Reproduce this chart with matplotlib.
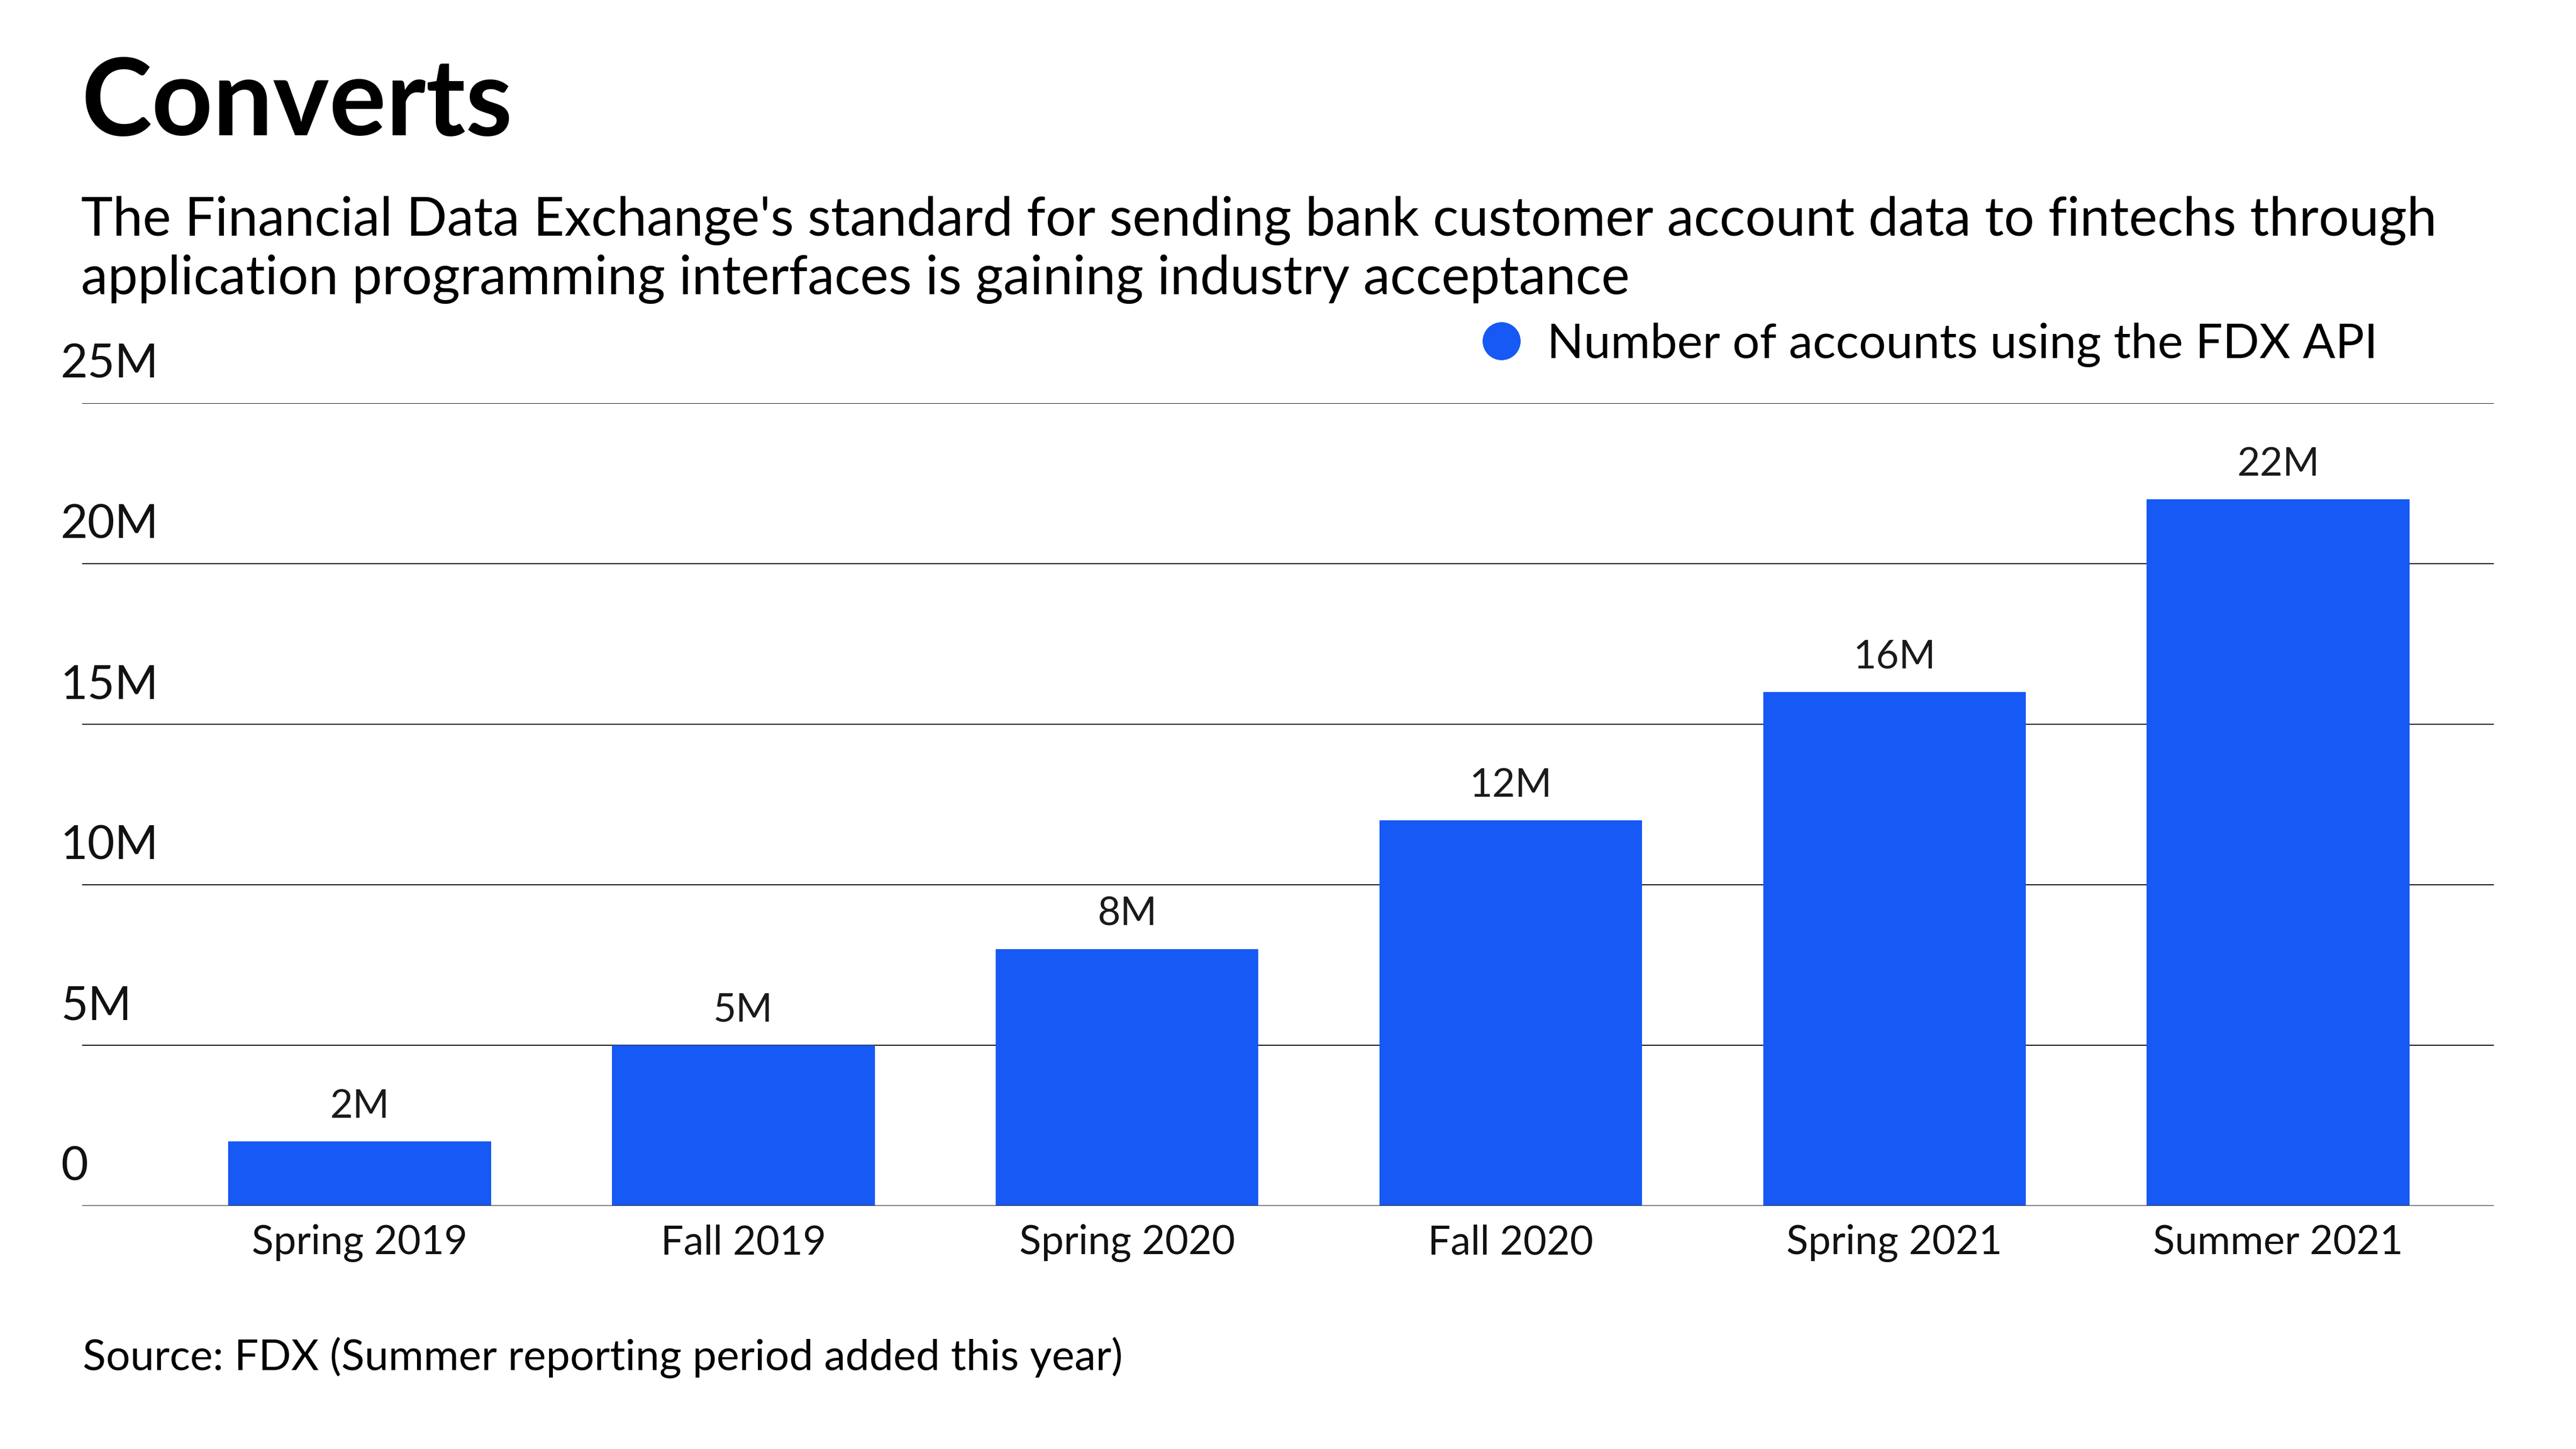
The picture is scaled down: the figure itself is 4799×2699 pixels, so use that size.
import matplotlib
matplotlib.use("Agg")
import matplotlib.pyplot as plt
from matplotlib.lines import Line2D
from matplotlib.transforms import blended_transform_factory

plt.rcParams['font.family'] = ['Lato', 'DejaVu Sans']

# data
periods = ['Spring 2019', 'Fall 2019', 'Spring 2020', 'Fall 2020', 'Spring 2021', 'Summer 2021']
accounts_m = [2, 5, 8, 12, 16, 22]
value_labels = ['2M', '5M', '8M', '12M', '16M', '22M']
y_ticks = [0, 5, 10, 15, 20, 25]
y_tick_labels = ['0', '5M', '10M', '15M', '20M', '25M']

title = 'Converts'
subtitle_1 = "The Financial Data Exchange's standard for sending bank customer account data to fintechs through"
subtitle_2 = 'application programming interfaces is gaining industry acceptance'
legend_label = 'Number of accounts using the FDX API'
source = 'Source: FDX (Summer reporting period added this year)'

BLUE = '#1659F5'
W, H = 4799, 2699
DPI = 100

def fx(x):
    return x / W

def fy(y):
    return 1 - y / H

fig = plt.figure(figsize=(W / DPI, H / DPI), dpi=DPI)
fig.patch.set_facecolor('white')

# plot area in pixel terms
ax_left, ax_right, ax_top, ax_bottom = 153, 4646, 751, 2246
ax = fig.add_axes([fx(ax_left), fy(ax_bottom), (ax_right - ax_left) / W, (ax_bottom - ax_top) / H])

x = list(range(len(periods)))
ax.bar(x, accounts_m, width=0.685, color=BLUE, zorder=3)

ax.set_ylim(0, 25)
ax.set_xlim(-0.723, 5.562)
for s in ax.spines.values():
    s.set_visible(False)
ax.set_xticks([])
ax.set_yticks([])

# gridlines
for t in y_ticks:
    if t == 0:
        ax.axhline(t, color='#111111', lw=2.0, zorder=4)
    else:
        ax.axhline(t, color='#111111', lw=1.4, zorder=2)

# y tick labels above the lines, left aligned
trans = blended_transform_factory(fig.transFigure, ax.transData)
for t, lab in zip(y_ticks, y_tick_labels):
    ax.text(fx(113), t + 0.8, lab, transform=trans, ha='left', va='baseline',
            fontsize=63, color='#111111', clip_on=False)

# category labels
for xi, lab in zip(x, periods):
    ax.text(xi, -1.51, lab, ha='center', va='baseline', fontsize=54,
            color='#111111', clip_on=False)

# value labels
for xi, v, lab in zip(x, accounts_m, value_labels):
    ax.text(xi, v + 0.74, lab, ha='center', va='baseline', fontsize=53,
            color='#1a1a1a', clip_on=False)

# title and subtitle
fig.text(fx(151), fy(252), title, fontsize=143, fontweight='bold', ha='left', va='baseline')
fig.text(fx(151), fy(439), subtitle_1, fontsize=72, ha='left', va='baseline')
fig.text(fx(151), fy(548), subtitle_2, fontsize=72, ha='left', va='baseline')

# legend
fig.add_artist(Line2D([fx(2797)], [fy(635)], marker='o', markersize=50, color=BLUE,
                      lw=0, transform=fig.transFigure))
fig.text(fx(2882), fy(667), legend_label, fontsize=64.5, ha='left', va='baseline')

# source
fig.text(fx(154), fy(2552), source, fontsize=57.4, ha='left', va='baseline')

fig.savefig('out.png', dpi=DPI, facecolor='white')
